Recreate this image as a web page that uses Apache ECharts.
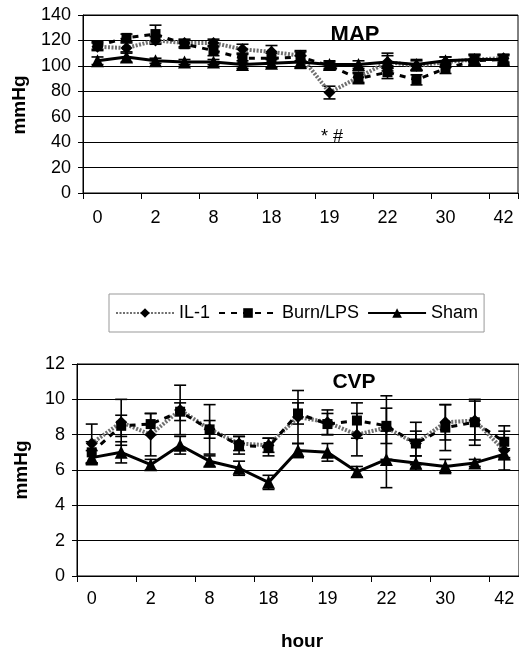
<!DOCTYPE html>
<html><head><meta charset="utf-8">
<script src="https://cdn.jsdelivr.net/npm/echarts@6/dist/echarts.min.js"></script>
<style>html,body{margin:0;padding:0;background:#fff}#c{width:519px;height:654px}</style>
</head><body><div id="c"></div>
<script>
// Categories (hours); only every other category is labelled in the original
const hours = ['0', '', '2', '', '8', '', '18', '', '19', '', '22', '', '30', '', '42'];
const seriesNames = ['IL-1', 'Burn/LPS', 'Sham'];

// MAP (mmHg)
const mapIL1      = [115, 114, 120, 118, 118, 113, 111, 108, 79, 91, 103, 100, 103, 105, 106];
const mapIL1Err   = [3, 4, 3, 3, 3, 4, 5, 4, 5, 4, 5, 4, 4, 4, 3];
const mapBurn     = [116, 122, 125, 117, 112, 106, 106, 107, 100, 90, 95, 89, 98, 104, 105];
const mapBurnErr  = [3, 3, 7, 3, 4, 4, 4, 4, 3, 4, 5, 4, 4, 4, 3];
const mapSham     = [104, 107, 104, 103, 103, 101, 102, 103, 101, 101, 103, 101, 104, 105, 105];
const mapShamErr  = [3, 4, 2, 2, 2, 3, 3, 5, 3, 3, 7, 4, 3, 4, 4];

// CVP (mmHg)
const cvpIL1      = [7.5, 8.7, 8.0, 9.4, 8.3, 7.5, 7.4, 9.0, 8.7, 8.0, 8.4, 7.5, 8.7, 8.8, 7.1];
const cvpIL1Err   = [1.1, 1.3, 1.2, 1.4, 1.4, 0.4, 0.4, 1.5, 0.7, 1.2, 1.8, 1.2, 1.0, 1.1, 1.1];
const cvpBurn     = [7.0, 8.5, 8.6, 9.3, 8.3, 7.4, 7.3, 9.2, 8.6, 8.8, 8.5, 7.5, 8.4, 8.7, 7.6];
const cvpBurnErr  = [0.6, 0.6, 0.6, 0.5, 0.5, 0.5, 0.5, 0.6, 0.6, 1.0, 1.0, 0.7, 1.3, 1.3, 0.9];
const cvpSham     = [6.7, 7.0, 6.3, 7.4, 6.5, 6.1, 5.3, 7.1, 7.0, 5.9, 6.6, 6.4, 6.2, 6.4, 6.9];
const cvpShamErr  = [0.4, 0.6, 0.3, 0.5, 0.3, 0.4, 0.4, 0.4, 0.5, 0.3, 1.6, 0.4, 0.4, 0.2, 0.3];

const FONT = '"Liberation Sans", Arial, sans-serif';

function errSeries(xi, vals, errs) {
  return {
    type: 'custom', xAxisIndex: xi, yAxisIndex: xi, z: 1, silent: true,
    encode: { x: 0, y: [1, 2] },
    data: vals.map((v, i) => [i, v - errs[i], v + errs[i]]),
    renderItem(params, api) {
      const lo = api.coord([api.value(0), api.value(1)]);
      const hi = api.coord([api.value(0), api.value(2)]);
      const w = 6;
      const st = { stroke: '#000', lineWidth: 1.6 };
      return { type: 'group', children: [
        { type: 'line', shape: { x1: hi[0], y1: hi[1], x2: lo[0], y2: lo[1] }, style: st },
        { type: 'line', shape: { x1: hi[0] - w, y1: hi[1], x2: hi[0] + w, y2: hi[1] }, style: st },
        { type: 'line', shape: { x1: lo[0] - w, y1: lo[1], x2: lo[0] + w, y2: lo[1] }, style: st }
      ]};
    }
  };
}

const styles = {
  'IL-1':     { symbol: 'diamond', symbolSize: 12, lineStyle: { color: '#707070', width: 4, type: [2, 1.5] } },
  'Burn/LPS': { symbol: 'rect', symbolSize: 10, lineStyle: { color: '#000', width: 3, type: [6, 6] } },
  'Sham':     { symbol: 'triangle', symbolSize: 13, lineStyle: { color: '#000', width: 3, type: 'solid' } }
};

function lineSeries(name, xi, vals) {
  const s = styles[name];
  return {
    name, type: 'line', xAxisIndex: xi, yAxisIndex: xi, z: 3,
    data: vals, symbol: s.symbol, symbolSize: s.symbolSize,
    itemStyle: { color: '#000' }, lineStyle: s.lineStyle, animation: false
  };
}

function xAxis(gi) {
  return {
    type: 'category', gridIndex: gi, data: hours, boundaryGap: true,
    axisLine: { lineStyle: { color: '#000', width: 1 } },
    axisTick: { show: true, interval: 1, length: 6, lineStyle: { color: '#000' } },
    axisLabel: { interval: 0, margin: gi === 0 ? 16 : 14, fontSize: 18, fontFamily: FONT, color: '#000' },
    splitLine: { show: false }
  };
}
function yAxis(gi, max, interval) {
  return {
    type: 'value', gridIndex: gi, min: 0, max, interval,
    axisLine: { show: true, lineStyle: { color: '#000', width: 1 } },
    axisTick: { show: true, length: 5, lineStyle: { color: '#000' } },
    axisLabel: { margin: 12, fontSize: 18, fontFamily: FONT, color: '#000' },
    splitLine: { show: true, lineStyle: { color: '#000', width: 1 } }
  };
}

const chart = echarts.init(document.getElementById('c'), null, { renderer: 'canvas' });
chart.setOption({
  animation: false,
  backgroundColor: '#fff',
  grid: [
    { left: 83, top: 15, width: 435, height: 178, show: true, borderColor: '#000', borderWidth: 1 },
    { left: 77, top: 364, width: 447, height: 212, show: true, borderColor: '#000', borderWidth: 1 }
  ],
  xAxis: [xAxis(0), xAxis(1)],
  yAxis: [yAxis(0, 140, 20), yAxis(1, 12, 2)],
  legend: {
    data: seriesNames, left: 109, top: 294, itemWidth: 58, itemHeight: 12, itemGap: 8,
    padding: [10, 6], borderColor: '#999', borderWidth: 1,
    textStyle: { fontSize: 18, fontFamily: FONT, color: '#000' }
  },
  graphic: [
    { type: 'text', x: 355, y: 35, style: { text: 'MAP', font: 'bold 22px ' + FONT, fill: '#000', textAlign: 'center', textVerticalAlign: 'middle' } },
    { type: 'text', x: 354, y: 382, style: { text: 'CVP', font: 'bold 21px ' + FONT, fill: '#000', textAlign: 'center', textVerticalAlign: 'middle' } },
    { type: 'text', x: 332, y: 137, style: { text: '* #', font: '18px ' + FONT, fill: '#000', textAlign: 'center', textVerticalAlign: 'middle' } },
    { type: 'text', x: 302, y: 642, style: { text: 'hour', font: 'bold 19px ' + FONT, fill: '#000', textAlign: 'center', textVerticalAlign: 'middle' } },
    { type: 'text', x: 20, y: 105, rotation: Math.PI / 2, style: { text: 'mmHg', font: 'bold 19px ' + FONT, fill: '#000', textAlign: 'center', textVerticalAlign: 'middle' } },
    { type: 'text', x: 22, y: 470, rotation: Math.PI / 2, style: { text: 'mmHg', font: 'bold 19px ' + FONT, fill: '#000', textAlign: 'center', textVerticalAlign: 'middle' } }
  ],
  series: [
    errSeries(0, mapIL1, mapIL1Err), errSeries(0, mapBurn, mapBurnErr), errSeries(0, mapSham, mapShamErr),
    errSeries(1, cvpIL1, cvpIL1Err), errSeries(1, cvpBurn, cvpBurnErr), errSeries(1, cvpSham, cvpShamErr),
    lineSeries('IL-1', 0, mapIL1), lineSeries('Burn/LPS', 0, mapBurn), lineSeries('Sham', 0, mapSham),
    lineSeries('IL-1', 1, cvpIL1), lineSeries('Burn/LPS', 1, cvpBurn), lineSeries('Sham', 1, cvpSham)
  ]
});
</script>
</body></html>
